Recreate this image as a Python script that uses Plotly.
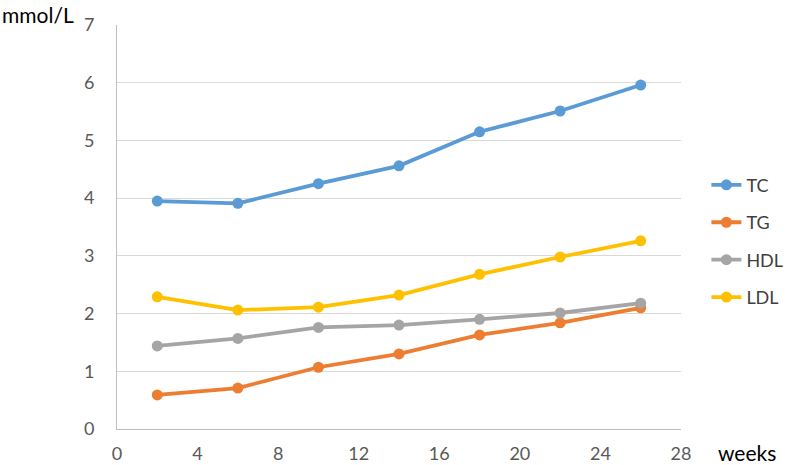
import plotly.graph_objects as go

weeks = [2, 6, 10, 14, 18, 22, 26]
tc = [3.95, 3.91, 4.25, 4.56, 5.15, 5.51, 5.96]
tg = [0.59, 0.71, 1.07, 1.30, 1.63, 1.84, 2.10]
hdl = [1.44, 1.57, 1.76, 1.80, 1.90, 2.01, 2.18]
ldl = [2.29, 2.06, 2.11, 2.32, 2.68, 2.98, 3.26]

series = [("TC", tc, "#5B9BD5"), ("TG", tg, "#ED7D31"),
          ("HDL", hdl, "#A5A5A5"), ("LDL", ldl, "#FFC000")]

fig = go.Figure()
for name, vals, col in series:
    fig.add_trace(go.Scatter(x=weeks, y=vals, name=name, mode="lines+markers",
                             line=dict(color=col, width=3.8),
                             marker=dict(color=col, size=11),
                             legendgroup=name))

font = "Lato, 'Open Sans', sans-serif"
fig.update_layout(
    width=787, height=465,
    margin=dict(l=117, r=106, t=25, b=36, autoexpand=False),
    plot_bgcolor="white", paper_bgcolor="white",
    font=dict(family=font, size=18, color="#595959"),
    showlegend=True,
    legend=dict(x=1.045, y=0.465, xanchor="left", yanchor="middle",
                font=dict(size=18, color="#404040"), tracegroupgap=11,
                itemwidth=30, bgcolor="rgba(0,0,0,0)"),
    xaxis=dict(range=[0, 28], tickvals=[0, 4, 8, 12, 16, 20, 24, 28],
               showgrid=False, zeroline=False, showline=True,
               linecolor="#BFBFBF", linewidth=1, automargin=False,
               ticks="outside", ticklen=8, tickcolor="rgba(0,0,0,0)"),
    yaxis=dict(range=[0, 7], dtick=1, showgrid=True, gridcolor="#D9D9D9",
               gridwidth=1, zeroline=False, showline=True,
               linecolor="#BFBFBF", linewidth=1, automargin=False,
               ticks="outside", ticklen=18, tickcolor="rgba(0,0,0,0)"),
    annotations=[
        dict(text="mmol/L", xref="paper", yref="paper", x=-0.2074, y=1.027,
             xanchor="left", yanchor="middle", showarrow=False,
             font=dict(size=21, color="#000000", family=font)),
        dict(text="weeks", xref="paper", yref="paper", x=1.117, y=-0.057,
             xanchor="center", yanchor="middle", showarrow=False,
             font=dict(size=21, color="#000000", family=font)),
    ],
)

fig.write_html("out.html", config={"displayModeBar": False},
               post_script="document.body.style.margin='0';document.body.style.overflow='hidden';")
